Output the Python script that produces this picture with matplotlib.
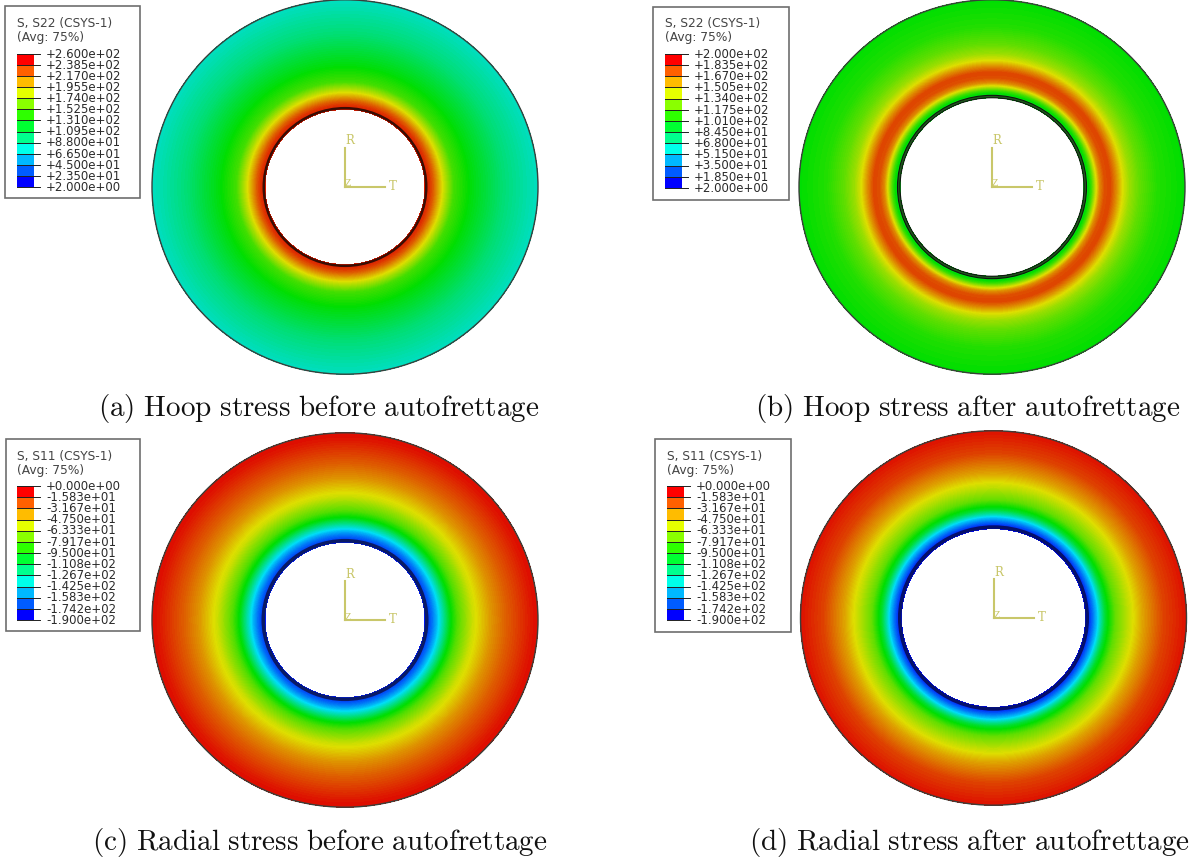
import matplotlib
matplotlib.use("Agg")
import matplotlib.pyplot as plt
from matplotlib.colors import LinearSegmentedColormap, BoundaryNorm
from matplotlib.patches import Ellipse, Rectangle
import numpy as np

# tick values of the four contour legends
levels_a = [260, 238.5, 217, 195.5, 174, 152.5, 131, 109.5, 88, 66.5, 45, 23.5, 2]
levels_b = [200, 183.5, 167, 150.5, 134, 117.5, 101, 84.5, 68, 51.5, 35, 18.5, 2]
levels_c = [0, -15.83, -31.67, -47.5, -63.33, -79.17, -95, -110.8, -126.7, -142.5, -158.3, -174.2, -190]
levels_d = levels_c

# stress read along the radius (radius in px of the picture)
radius_a = [80, 84, 88, 92, 98, 108, 125, 158, 193]
stress_a = [250, 245, 232, 215, 190, 150, 128, 100, 80]
radius_b = [92, 97, 100, 104, 108, 113, 118, 124, 130, 137, 147, 165, 193]
stress_b = [95, 100, 115, 145, 168, 182, 184, 168, 150, 135, 122, 108, 100]
radius_c = [80, 83, 88, 92, 96, 105, 113, 128, 147, 163, 187, 193]
stress_c = [-185, -178, -165, -152, -136, -100, -78, -52, -32, -20, -5, -3]
radius_d = [92, 96, 100, 104, 108, 112, 122, 135, 150, 170, 193]
stress_d = [-188, -180, -165, -148, -125, -105, -75, -55, -35, -15, -4]

captions = ["(a) Hoop stress before autofrettage", "(b) Hoop stress after autofrettage",
            "(c) Radial stress before autofrettage", "(d) Radial stress after autofrettage"]
titles = ["S, S22 (CSYS-1)", "S, S22 (CSYS-1)", "S, S11 (CSYS-1)", "S, S11 (CSYS-1)"]

spectrum = [(0, 0, 1), (0, 1, 1), (0, 1, 0), (1, 1, 0), (1, 0, 0)]
bright = LinearSegmentedColormap.from_list("bright", spectrum, N=256)
# the model shading is a little darker than the legend
dim = LinearSegmentedColormap.from_list("dim", [(r * .87, g * .87, b * .87 + (.1 if b else 0)) for r, g, b in spectrum], N=256)

W, H = 1196, 863
fig = plt.figure(figsize=(W / 100, H / 100), dpi=100)
ax = fig.add_axes([0, 0, 1, 1])
ax.set_xlim(0, W)
ax.set_ylim(H, 0)
ax.axis("off")

squash = 0.97  # the screenshots are stretched sideways
triad_col = "#c9c76a"
theta = np.linspace(0, 2 * np.pi, 361)


def panel(cx, cy, radius, stress, levels, ring_col, ring_w, double):
    rr, tt = np.meshgrid(radius, theta)
    zz = np.tile(stress, (len(theta), 1))
    fill = np.linspace(min(levels), max(levels), 129)
    ax.contourf(cx + rr * np.cos(tt), cy + squash * rr * np.sin(tt), zz, levels=fill, cmap=dim)
    R, r = max(radius), min(radius)
    ax.add_patch(Ellipse((cx, cy), 2 * R, 2 * R * squash, fc="none", ec="#3a3f3a", lw=1))
    ax.add_patch(Ellipse((cx, cy), 2 * r + ring_w, (2 * r + ring_w) * squash, fc="none", ec=ring_col, lw=ring_w * .72))
    if double:
        ax.add_patch(Ellipse((cx, cy), 2 * r, 2 * r * squash, fc="none", ec="#101510", lw=.8))
        ax.add_patch(Ellipse((cx, cy), 2 * r + 2 * ring_w, (2 * r + 2 * ring_w) * squash, fc="none", ec="#101510", lw=.8))
    # material orientation triad
    ax.plot([cx, cx], [cy, cy - 39], color=triad_col, lw=1.5)
    ax.plot([cx, cx + 40], [cy, cy], color=triad_col, lw=1.5)
    ax.text(cx + 5, cy - 46, "R", color=triad_col, fontsize=8.5, family="DejaVu Serif", ha="center", va="center")
    ax.text(cx + 48, cy - 1, "T", color=triad_col, fontsize=8.5, family="DejaVu Serif", ha="center", va="center")
    ax.text(cx + 3, cy - 3, "Z", color=triad_col, fontsize=6.5, family="DejaVu Serif", ha="center", va="center")


def legend(x0, y0, x1, y1, bx, by0, by1, title, levels):
    ax.add_patch(Rectangle((x0, y0), x1 - x0, y1 - y0, fc="white", ec="#6e6e6e", lw=1.2, zorder=3))
    ax.text(bx, by0 - 30, title, fontsize=8.8, color="#444444", va="center", zorder=4)
    ax.text(bx, by0 - 16, "(Avg: 75%)", fontsize=8.8, color="#444444", va="center", zorder=4)
    rising = sorted(levels)
    norm = BoundaryNorm(rising, 256)
    mids = np.array([(a + b) / 2 for a, b in zip(rising[:-1], rising[1:])])[::-1]
    ys = np.linspace(by0, by1, 13)
    ax.pcolormesh([bx, bx + 17], ys, mids.reshape(-1, 1), cmap=bright, norm=norm, zorder=4)
    for y, v in zip(ys, levels):
        ax.plot([bx, bx + 23], [y, y], color="#202020", lw=.7, zorder=5)
        ax.text(bx + 29, y + .3, "%+.3e" % v, fontsize=8.45, color="#2a2a2a", va="center", zorder=5)


panel(345, 187, radius_a, stress_a, levels_a, "#3a0d04", 2.5, False)
panel(992, 187, radius_b, stress_b, levels_b, "#1f5a1c", 2.5, True)
panel(345, 620, radius_c, stress_c, levels_c, "#0a1a66", 3.5, False)
panel(993.5, 618, radius_d, stress_d, levels_d, "#06106a", 3.5, False)

legend(5, 6, 140, 198, 17, 54, 187, titles[0], levels_a)
legend(653, 7, 789, 200, 665, 54, 188, titles[1], levels_b)
legend(6, 439, 140, 631, 17, 486, 620, titles[2], levels_c)
legend(655, 439, 791, 632, 667, 486, 620, titles[3], levels_d)

plt.rcParams["mathtext.fontset"] = "cm"
cap_pos = [(98, 408), (755, 408), (92, 842), (749, 842)]
for (x, y), s in zip(cap_pos, captions):
    ax.text(x, y, "$\\mathrm{" + s.replace(" ", "\\ ") + "}$", fontsize=21, va="center", color="#111111")

fig.savefig("out.png", dpi=100)
